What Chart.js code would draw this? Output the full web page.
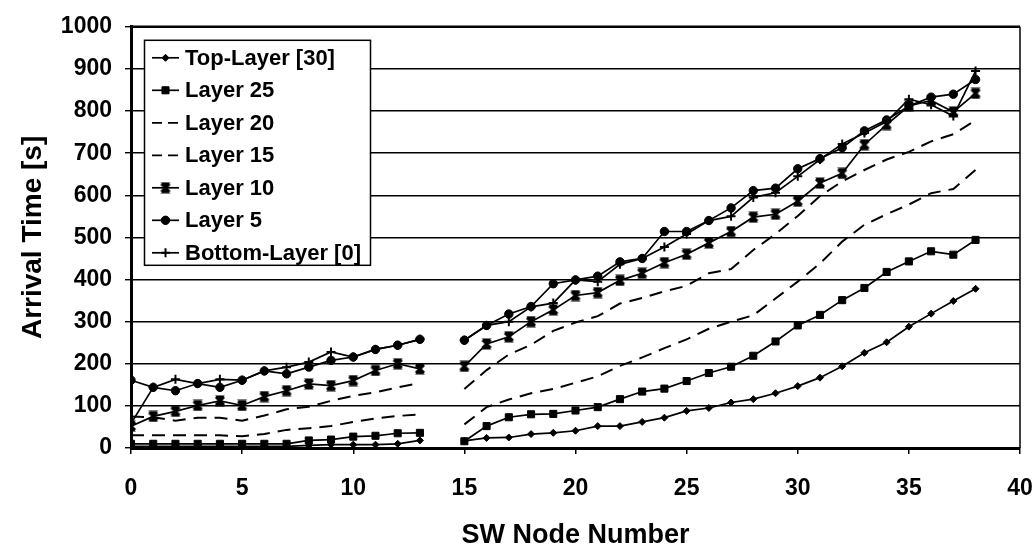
<!DOCTYPE html>
<html>
<head>
<meta charset="utf-8">
<script src="https://cdn.jsdelivr.net/npm/chart.js@4.4.1/dist/chart.umd.min.js"></script>
<style>
  html, body { margin: 0; padding: 0; background: #fff; }
  #wrap { width: 1035px; height: 552px; }
</style>
</head>
<body>
<div id="wrap"><canvas id="c" width="1035" height="552"></canvas></div>
<script>
// Switch node numbers (node 14 has no measurement, so every series breaks there)
const nodes = [0, 1, 2, 3, 4, 5, 6, 7, 8, 9, 10, 11, 12, 13, 14,
  15, 16, 17, 18, 19, 20, 21, 22, 23, 24, 25, 26, 27, 28, 29, 30,
  31, 32, 33, 34, 35, 36, 37, 38];

// Arrival times in seconds, one list per layer
const topLayer = [4, 4, 4, 4, 4, 4, 4, 4, 6, 8, 8, 8, 10, 18, null,
  17, 24, 25, 33, 36, 41, 52, 52, 62, 72, 88, 95, 108, 116, 130, 147,
  167, 194, 226, 251, 288, 319, 349, 378];
const layer25 = [10, 10, 10, 10, 10, 10, 10, 10, 18, 20, 27, 29, 35, 36, null,
  16, 52, 73, 80, 81, 89, 97, 116, 134, 141, 159, 178, 193, 219, 253, 291,
  316, 351, 380, 418, 443, 467, 459, 494];
const layer20 = [30, 30, 30, 30, 30, 28, 33, 43, 47, 52, 62, 70, 76, 80, null,
  56, 97, 115, 130, 140, 155, 170, 195, 215, 237, 258, 283, 300, 315, 355, 395,
  438, 490, 530, 555, 578, 605, 615, 660];
const layer15 = [75, 73, 65, 72, 72, 65, 77, 92, 98, 112, 124, 132, 144, 154, null,
  140, 185, 222, 245, 278, 298, 313, 343, 356, 372, 385, 415, 425, 470, 508, 551,
  598, 633, 660, 685, 703, 728, 745, 778];
const layer10 = [52, 75, 87, 101, 112, 101, 122, 136, 152, 148, 160, 184, 200, 188, null,
  194, 247, 264, 300, 328, 362, 369, 398, 415, 440, 460, 487, 514, 548, 555, 586,
  629, 652, 720, 768, 812, 825, 798, 842];
const layer5 = [161, 144, 136, 153, 144, 161, 183, 176, 192, 208, 216, 234, 244, 258, null,
  256, 291, 318, 336, 390, 399, 408, 442, 450, 514, 514, 540, 570, 611, 617, 663,
  687, 713, 753, 779, 812, 833, 840, 875];
const bottomLayer = [58, 144, 163, 153, 163, 161, 183, 192, 204, 228, 216, 234, 244, 258, null,
  256, 291, 300, 335, 344, 399, 395, 436, 450, 477, 508, 540, 550, 595, 606, 645,
  685, 722, 748, 775, 828, 815, 788, 895];

const seriesNames = ['Top-Layer [30]', 'Layer 25', 'Layer 20', 'Layer 15',
  'Layer 10', 'Layer 5', 'Bottom-Layer [0]'];

const xTicks = { min: 0, max: 40, step: 5 };
const yTicks = { min: 0, max: 1000, step: 100 };

const FONT = '"Liberation Sans", Arial, Helvetica, sans-serif';

// Bold "x" marker with flat caps, used for Layer 10
function barredCross() {
  const c = document.createElement('canvas');
  c.width = 12; c.height = 12;
  const g = c.getContext('2d');
  g.strokeStyle = '#000';
  g.lineWidth = 3;
  g.beginPath();
  g.moveTo(2, 2); g.lineTo(10, 10);
  g.moveTo(10, 2); g.lineTo(2, 10);
  g.stroke();
  g.fillStyle = '#000';
  g.beginPath();
  g.moveTo(1, 0.5); g.lineTo(11, 0.5); g.lineTo(6, 5); g.closePath();
  g.moveTo(1, 11.5); g.lineTo(11, 11.5); g.lineTo(6, 7); g.closePath();
  g.fill();
  return c;
}

function points(values) {
  return values.map((v, i) => ({ x: nodes[i], y: v }));
}

function line(label, values, extra) {
  return Object.assign({
    label: label,
    data: points(values),
    borderColor: '#000',
    backgroundColor: '#000',
    pointBackgroundColor: '#000',
    pointBorderColor: '#000',
    borderWidth: 1.7,
    pointBorderWidth: 1,
    tension: 0,
    fill: false,
    spanGaps: false
  }, extra);
}

const datasets = [
  line(seriesNames[0], topLayer, { pointStyle: 'rectRot', pointRadius: 3.5 }),
  line(seriesNames[1], layer25, { pointStyle: 'rect', pointRadius: 5 }),
  line(seriesNames[2], layer20, { pointRadius: 0, borderDash: [13, 8], borderWidth: 2 }),
  line(seriesNames[3], layer15, { pointRadius: 0, borderDash: [13, 8], borderWidth: 2 }),
  line(seriesNames[4], layer10, { pointStyle: barredCross(), pointRadius: 6 }),
  line(seriesNames[5], layer5, { pointStyle: 'circle', pointRadius: 4.2 }),
  line(seriesNames[6], bottomLayer, { pointStyle: 'cross', pointRadius: 4.5, pointBorderWidth: 2 })
];

// Plot frame (top and right edges) and the boxed legend inside the plot
const framePlugin = {
  id: 'frameAndLegend',
  afterDatasetsDraw(chart) {
    const { ctx, chartArea: a } = chart;
    ctx.save();
    ctx.strokeStyle = '#000';
    ctx.lineWidth = 2.5;
    ctx.beginPath();
    ctx.moveTo(a.left, a.top);
    ctx.lineTo(a.right, a.top);
    ctx.stroke();
    ctx.lineWidth = 1.5;
    ctx.beginPath();
    ctx.moveTo(a.right, a.top);
    ctx.lineTo(a.right, a.bottom);
    ctx.stroke();

    // legend box
    const bx = a.left + 13, by = a.top + 13, bw = 227, bh = 226;
    ctx.fillStyle = '#fff';
    ctx.fillRect(bx, by, bw, bh);
    ctx.lineWidth = 1.5;
    ctx.strokeRect(bx + 0.5, by + 0.5, bw - 1, bh - 1);

    ctx.font = 'bold 22px ' + FONT;
    ctx.textBaseline = 'middle';
    ctx.textAlign = 'left';
    chart.data.datasets.forEach((ds, i) => {
      const cy = by + 18 + i * 32.5;
      const x0 = bx + 8, x1 = bx + 35;
      ctx.save();
      ctx.strokeStyle = '#000';
      ctx.lineWidth = 1.7;
      ctx.setLineDash(ds.borderDash ? [10, 6] : []);
      ctx.beginPath();
      ctx.moveTo(x0, cy);
      ctx.lineTo(x1, cy);
      ctx.stroke();
      ctx.restore();
      if (ds.pointRadius > 0) {
        ctx.save();
        ctx.fillStyle = '#000';
        ctx.strokeStyle = '#000';
        ctx.lineWidth = ds.pointBorderWidth;
        Chart.helpers.drawPoint(ctx, {
          pointStyle: ds.pointStyle,
          radius: ds.pointRadius,
          rotation: 0,
          borderWidth: ds.pointBorderWidth
        }, (x0 + x1) / 2, cy);
        ctx.restore();
      }
      ctx.fillStyle = '#000';
      ctx.fillText(ds.label, bx + 41, cy + 1);
    });
    ctx.restore();
  }
};

new Chart(document.getElementById('c'), {
  type: 'line',
  data: { datasets: datasets },
  plugins: [framePlugin],
  options: {
    responsive: false,
    animation: false,
    events: [],
    layout: { padding: { top: 19, right: 15, bottom: 0, left: 0 } },
    plugins: {
      legend: { display: false },
      tooltip: { enabled: false }
    },
    scales: {
      x: {
        type: 'linear',
        min: xTicks.min,
        max: xTicks.max,
        ticks: {
          stepSize: xTicks.step,
          padding: 21,
          color: '#000',
          maxRotation: 0,
          autoSkip: false,
          callback: v => String(v),
          font: { family: FONT, size: 23, weight: 'bold' }
        },
        grid: {
          display: true,
          drawOnChartArea: false,
          drawTicks: true,
          tickLength: 6,
          color: '#000',
          lineWidth: 1.5
        },
        border: { display: true, color: '#000', width: 3 },
        title: {
          display: true,
          text: 'SW Node Number',
          color: '#000',
          font: { family: FONT, size: 27, weight: 'bold' },
          padding: { top: 0, bottom: 0 }
        },
        afterFit(s) { s.height = 104; s.paddingLeft = 0; s.paddingRight = 0; }
      },
      y: {
        min: yTicks.min,
        max: yTicks.max,
        ticks: {
          stepSize: yTicks.step,
          padding: 13,
          color: '#000',
          callback: v => String(v),
          font: { family: FONT, size: 23, weight: 'bold' }
        },
        grid: {
          color: '#000',
          lineWidth: 1.4,
          tickLength: 6
        },
        border: { display: true, color: '#000', width: 3 },
        title: {
          display: true,
          text: 'Arrival Time [s]',
          color: '#000',
          font: { family: FONT, size: 28, weight: 'bold' },
          padding: { top: 16, bottom: 0 }
        },
        afterFit(s) { s.width = 131; }
      }
    }
  }
});
</script>
</body>
</html>
